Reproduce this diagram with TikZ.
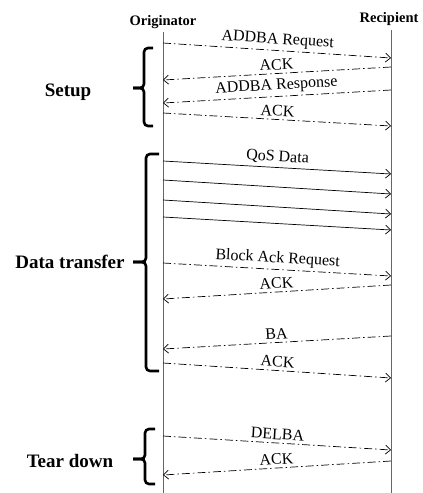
\documentclass[tikz,border=0pt]{standalone}
\usepackage{fontspec}
\setmainfont{Liberation Serif}
\usetikzlibrary{arrows.meta}

\begin{document}
\begin{tikzpicture}[x=1pt,y=-1pt,
party/.style={font=\fontsize{14.5}{16}\selectfont\bfseries, inner sep=0pt},
phase/.style={font=\fontsize{19}{22}\selectfont\bfseries, inner sep=0pt},
lifeline/.style={draw=gray!80!black, line width=0.9pt},
msg/.style={line width=0.7pt, -{Straight Barb[length=5pt,width=9pt]}},
ctrl/.style={msg, dash pattern=on 8pt off 3pt on 1.5pt off 3pt},
msglabel/.style={font=\fontsize{16}{18}\selectfont, midway, sloped, above, inner sep=3pt},
groupbrace/.style={line width=2.6pt, rounded corners=4pt}]
    \useasboundingbox (0,0) rectangle (423,493);
    % parties and lifelines
    \node [party] (org) at (163,22) {Originator};
    \node [party] (rec) at (389,19) {Recipient};
    \coordinate (orgend) at (163,493);
    \coordinate (recend) at (391,493);
    \draw [lifeline] (163,32) -- (orgend);
    \draw [lifeline] (391,30) -- (recend);
    % originator -> recipient, control frames
    \foreach \ya/\yb/\txt [count=\i] in {43/58/ADDBA Request, 113/126/ACK,
        263/276/Block Ack Request, 363/378/ACK, 436/450/DELBA} {
        \coordinate (ca\i) at (163,\ya);
        \coordinate (cb\i) at (391,\yb);
        \draw [ctrl] (ca\i) -- node [msglabel] {\txt} (cb\i);
    }
    % recipient -> originator, control frames
    \foreach \ya/\yb/\txt [count=\i] in {67/80/ACK, 90/103/ADDBA Response,
        285/299/ACK, 336/349/BA, 461/475/ACK} {
        \coordinate (ra\i) at (391,\ya);
        \coordinate (rb\i) at (163,\yb);
        \draw [ctrl] (ra\i) -- node [msglabel] {\txt} (rb\i);
    }
    % data frames
    \foreach \ya/\yb/\txt [count=\i] in {161/174/QoS Data, 180/194/, 200/214/, 217/230/} {
        \coordinate (da\i) at (163,\ya);
        \coordinate (db\i) at (391,\yb);
        \draw [msg] (da\i) -- node [msglabel] {\txt} (db\i);
    }
    % phases
    \draw [groupbrace] (153,48) -| (144,88) -- (133,88);
    \draw [groupbrace] (133,88) -- (144,88) |- (153,126);
    \node [phase] (setup) at (68,92) {Setup};
    \draw [groupbrace] (159,154) -| (146,262) -- (133,262);
    \draw [groupbrace] (133,262) -- (146,262) |- (159,371);
    \node [phase] (data) at (70,262) {Data transfer};
    \draw [groupbrace] (155,429) -| (145,459) -- (133,459);
    \draw [groupbrace] (133,459) -- (145,459) |- (155,484);
    \node [phase] (down) at (70,461) {Tear down};
\end{tikzpicture}
\end{document}
